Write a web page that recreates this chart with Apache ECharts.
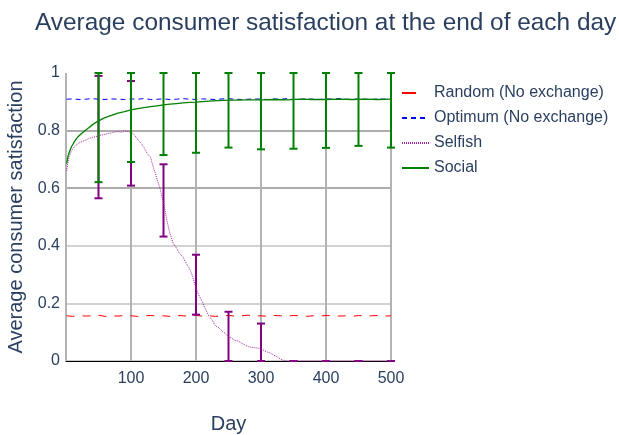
<!DOCTYPE html>
<html><head><meta charset="utf-8">
<script src="https://cdn.jsdelivr.net/npm/echarts@6/dist/echarts.min.js"></script>
<style>html,body{margin:0;padding:0;background:#fff}#c{width:619px;height:435px}</style>
</head><body><div id="c"></div>
<script>
const title = 'Average consumer satisfaction at the end of each day';
const seriesNames = ['Random (No exchange)', 'Optimum (No exchange)', 'Selfish', 'Social'];
const xTicks = [100, 200, 300, 400, 500];
const yTicks = [0, 0.2, 0.4, 0.6, 0.8, 1];

const sampleDays = [1,10,20,30,40,50,60,70,80,90,100,110,120,130,140,150,160,170,180,190,200,210,220,230,240,250,260,270,280,290,300,310,320,330,340,350,360,370,380,390,400,410,420,430,440,450,460,470,480,490,500];
const randomVals = [0.157,0.155,0.158,0.156,0.157,0.159,0.155,0.157,0.156,0.158,0.157,0.155,0.157,0.158,0.156,0.157,0.155,0.158,0.157,0.156,0.158,0.156,0.157,0.155,0.157,0.158,0.156,0.157,0.159,0.156,0.157,0.155,0.158,0.157,0.156,0.158,0.157,0.155,0.157,0.156,0.158,0.157,0.156,0.157,0.155,0.158,0.156,0.157,0.158,0.156,0.157];
const optimumVals = [0.909,0.910,0.908,0.909,0.911,0.909,0.908,0.910,0.909,0.908,0.910,0.909,0.911,0.908,0.909,0.910,0.908,0.909,0.911,0.909,0.908,0.910,0.909,0.908,0.910,0.911,0.909,0.908,0.909,0.910,0.909,0.908,0.910,0.909,0.911,0.908,0.909,0.910,0.909,0.908,0.910,0.909,0.911,0.909,0.908,0.910,0.909,0.908,0.910,0.909,0.910];

const selfishDays = [1,3,5,8,12,16,20,25,30,35,40,45,50,55,60,65,70,75,80,85,90,95,100,105,110,115,120,125,130,135,140,145,150,155,160,165,170,175,180,185,190,195,200,205,210,215,220,225,230,235,240,245,250,255,260,265,270,275,280,285,290,295,300,305,310,315,320,325,330,335,340,360,380,400,420,440,460,480,500];
const selfishVals = [0.66,0.69,0.71,0.728,0.742,0.75,0.757,0.762,0.767,0.772,0.776,0.779,0.782,0.785,0.787,0.79,0.792,0.795,0.797,0.794,0.8,0.797,0.795,0.786,0.77,0.757,0.742,0.72,0.707,0.668,0.632,0.596,0.55,0.49,0.442,0.408,0.392,0.372,0.362,0.338,0.322,0.292,0.252,0.226,0.204,0.178,0.155,0.142,0.122,0.116,0.104,0.096,0.084,0.079,0.072,0.069,0.062,0.056,0.05,0.048,0.046,0.045,0.042,0.036,0.031,0.027,0.02,0.014,0.006,0.002,0,0,0,0,0,0,0,0,0];

const socialDays = [1,3,5,8,12,16,20,25,30,35,40,45,50,60,70,80,90,100,110,120,130,140,150,160,170,180,190,200,220,240,260,280,300,320,340,360,380,400,420,440,460,480,500];
const socialVals = [0.685,0.71,0.725,0.742,0.758,0.772,0.782,0.792,0.801,0.81,0.819,0.827,0.834,0.845,0.853,0.861,0.866,0.872,0.876,0.880,0.883,0.886,0.889,0.892,0.894,0.896,0.898,0.899,0.902,0.905,0.906,0.907,0.907,0.908,0.907,0.909,0.908,0.908,0.909,0.908,0.909,0.908,0.909];

const errDays = [50,100,150,200,250,300,350,400,450,500];
const selfishErrLow  = [0.565,0.609,0.432,0.161,0,0,0,0,0,0];
const selfishErrHigh = [0.99,0.972,0.683,0.369,0.171,0.13,0,0,0,0];
const socialErrLow   = [0.621,0.691,0.715,0.723,0.741,0.735,0.737,0.74,0.747,0.741];
const socialErrHigh  = [1,1,1,1,1,1,1,1,1,1];

const zip = (xs, ys) => xs.map((x, i) => [x, ys[i]]);
const zip3 = (xs, a, b) => xs.map((x, i) => [x, a[i], b[i]]);

const FONT = '"Liberation Sans", Arial, sans-serif';
const TXT = '#2a3f5f';

function errRenderer(color) {
  return function (params, api) {
    const x = api.value(0), lo = api.value(1), hi = api.value(2);
    const p1 = api.coord([x, lo]), p2 = api.coord([x, hi]);
    const w = 4;
    const st = { stroke: color, lineWidth: 2 };
    return { type: 'group', children: [
      { type: 'line', shape: { x1: p1[0], y1: p1[1], x2: p2[0], y2: p2[1] }, style: st },
      { type: 'line', shape: { x1: p1[0] - w, y1: p1[1], x2: p1[0] + w, y2: p1[1] }, style: st },
      { type: 'line', shape: { x1: p2[0] - w, y1: p2[1], x2: p2[0] + w, y2: p2[1] }, style: st }
    ]};
  };
}

const chart = echarts.init(document.getElementById('c'), null, { renderer: 'canvas' });
chart.setOption({
  animation: false,
  backgroundColor: '#fff',
  textStyle: { fontFamily: FONT },
  title: { text: title, left: 30, top: 6, textStyle: { fontFamily: FONT, fontSize: 24.4, fontWeight: 'normal', color: TXT } },
  grid: { left: 66, right: 228, top: 73, bottom: 74, containLabel: false, outerBoundsMode: 'none' },
  legend: {
    orient: 'vertical', left: 396, top: 80, itemWidth: 27, itemHeight: 14, itemGap: 9,
    itemStyle: { opacity: 0, color: 'rgba(0,0,0,0)', borderWidth: 0 },
    textStyle: { fontFamily: FONT, fontSize: 16, color: TXT },
    data: [
      { name: seriesNames[0], lineStyle: { type: [14, 16] } },
      { name: seriesNames[1] },
      { name: seriesNames[2] },
      { name: seriesNames[3] }
    ]
  },
  xAxis: {
    type: 'value', min: 0, max: 500, interval: 100,
    name: 'Day', nameLocation: 'middle', nameGap: 53,
    nameTextStyle: { fontFamily: FONT, fontSize: 20, color: TXT },
    axisLine: { show: true, onZero: false, lineStyle: { color: '#000', width: 1 } },
    axisTick: { show: false },
    axisLabel: { fontFamily: FONT, fontSize: 16, color: TXT, margin: 10,
      formatter: v => (xTicks.indexOf(v) >= 0 ? String(v) : '') },
    splitLine: { show: true, lineStyle: { color: '#b3b3b3', width: 2 } }
  },
  yAxis: {
    type: 'value', min: 0, max: 1, interval: 0.2,
    name: 'Average consumer satisfaction', nameLocation: 'middle', nameGap: 37,
    nameTextStyle: { fontFamily: FONT, fontSize: 20, color: TXT },
    axisLine: { show: false }, axisTick: { show: false },
    axisLabel: { fontFamily: FONT, fontSize: 16, color: TXT, margin: 6,
      formatter: v => { const t = yTicks.find(k => Math.abs(k - v) < 1e-9); return t === undefined ? '' : String(t); } },
    splitLine: { show: true, showMaxLine: false,
      lineStyle: { color: ['#cccccc', '#d2d2d2', '#d2d2d2', '#adadad', '#adadad', '#cccccc'], width: 2 } }
  },
  series: [
    { name: seriesNames[0], type: 'line', data: zip(sampleDays, randomVals), symbol: 'none',
      lineStyle: { color: '#ff0000', width: 1, type: [8, 8] }, itemStyle: { color: '#ff0000' }, z: 3 },
    { name: seriesNames[1], type: 'line', data: zip(sampleDays, optimumVals), symbol: 'none',
      lineStyle: { color: '#0000ff', width: 1, type: [5, 4] }, itemStyle: { color: '#0000ff' }, z: 3 },
    { name: 'selfishErr', type: 'custom', data: zip3(errDays, selfishErrLow, selfishErrHigh),
      renderItem: errRenderer('#800080'), clip: false, z: 4, encode: { x: 0, y: [1, 2] } },
    { name: seriesNames[2], type: 'line', data: zip(selfishDays, selfishVals), symbol: 'none',
      lineStyle: { color: '#a428a4', width: 1, type: [1, 1] }, itemStyle: { color: '#a428a4' }, z: 5 },
    { name: 'socialErr', type: 'custom', data: zip3(errDays, socialErrLow, socialErrHigh),
      renderItem: errRenderer('#008000'), clip: false, z: 6, encode: { x: 0, y: [1, 2] } },
    { name: seriesNames[3], type: 'line', data: zip(socialDays, socialVals), symbol: 'none',
      lineStyle: { color: '#008000', width: 1.3 }, itemStyle: { color: '#008000' }, z: 7 }
  ]
});
</script></body></html>
